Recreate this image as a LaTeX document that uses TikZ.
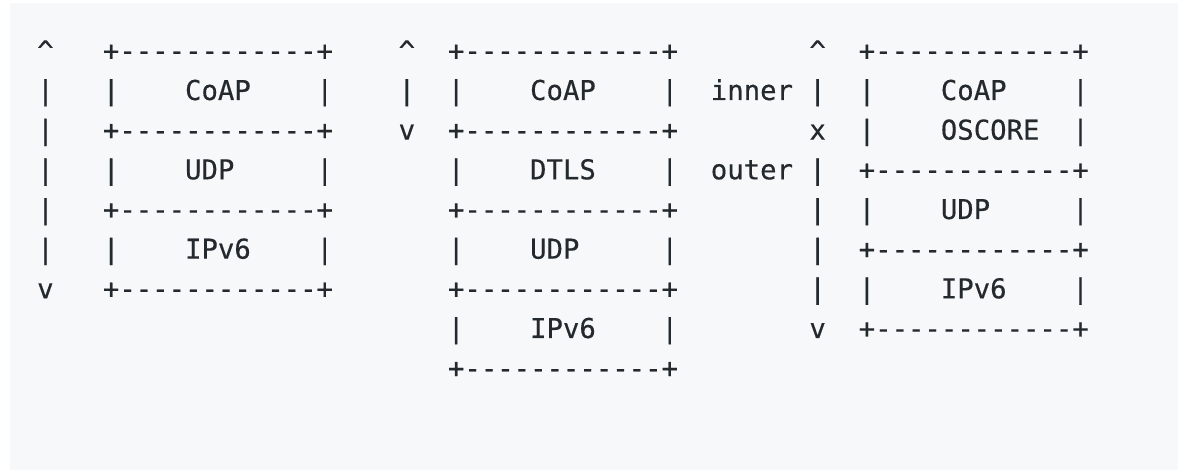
\documentclass[tikz,border=0pt]{standalone}
\usepackage{fontspec}
\setmonofont[FakeBold=0.4]{DejaVu Sans Mono}
\usetikzlibrary{positioning}
\definecolor{codebg}{HTML}{F6F8FA}
\definecolor{codeink}{HTML}{24292E}
\tikzset{
  ascii/.style={font=\ttfamily\fontsize{13.65}{16}\selectfont, text=codeink,
    inner sep=0pt, anchor=base west},
}
% column / row of the character grid
\newcommand{\cell}[2]{({36.8+16.43*#1},{60.3+39.67*#2})}

\begin{document}
\begin{tikzpicture}[x=0.5pt, y=-0.5pt]
    \useasboundingbox (0, 0) rectangle (1178, 470);
    \fill[white] (0, 0) rectangle (1178, 470);
    \fill[codebg] (10, 3) rectangle (1178, 470);

    % box borders
    \foreach \r/\c in {0/4, 2/4, 4/4, 6/4, 0/25, 2/25, 4/25, 6/25, 8/25, 0/50, 3/50, 5/50, 7/50}
        \node[ascii] (rule\r-\c) at \cell{\c}{\r} {+------------+};
    \foreach \r/\c in {1/4, 1/17, 3/4, 3/17, 5/4, 5/17,
                       1/25, 1/38, 3/25, 3/38, 5/25, 5/38, 7/25, 7/38,
                       1/50, 1/63, 2/50, 2/63, 4/50, 4/63, 6/50, 6/63}
        \node[ascii] (side\r-\c) at \cell{\c}{\r} {|};

    % up / down marks
    \foreach \r/\c/\t in {0/0/\textasciicircum, 1/0/|, 2/0/|, 3/0/|, 4/0/|, 5/0/|, 6/0/v,
                          0/22/\textasciicircum, 1/22/|, 2/22/v,
                          0/47/\textasciicircum, 1/47/|, 2/47/x, 3/47/|, 4/47/|, 5/47/|, 6/47/|, 7/47/v}
        \node[ascii] (mark\r-\c) at \cell{\c}{\r} {\t};

    % layers
    \node[ascii] (coapA) at \cell{9}{1} {CoAP};
    \node[ascii] (udpA) at \cell{9}{3} {UDP};
    \node[ascii] (ipA) at \cell{9}{5} {IPv6};

    \node[ascii] (coapB) at \cell{30}{1} {CoAP};
    \node[ascii] (dtlsB) at \cell{30}{3} {DTLS};
    \node[ascii] (udpB) at \cell{30}{5} {UDP};
    \node[ascii] (ipB) at \cell{30}{7} {IPv6};

    \node[ascii] (inner) at \cell{41}{1} {inner};
    \node[ascii] (outer) at \cell{41}{3} {outer};

    \node[ascii] (coapC) at \cell{55}{1} {CoAP};
    \node[ascii] (oscoreC) at \cell{55}{2} {OSCORE};
    \node[ascii] (udpC) at \cell{55}{4} {UDP};
    \node[ascii] (ipC) at \cell{55}{6} {IPv6};

\end{tikzpicture}
\end{document}
